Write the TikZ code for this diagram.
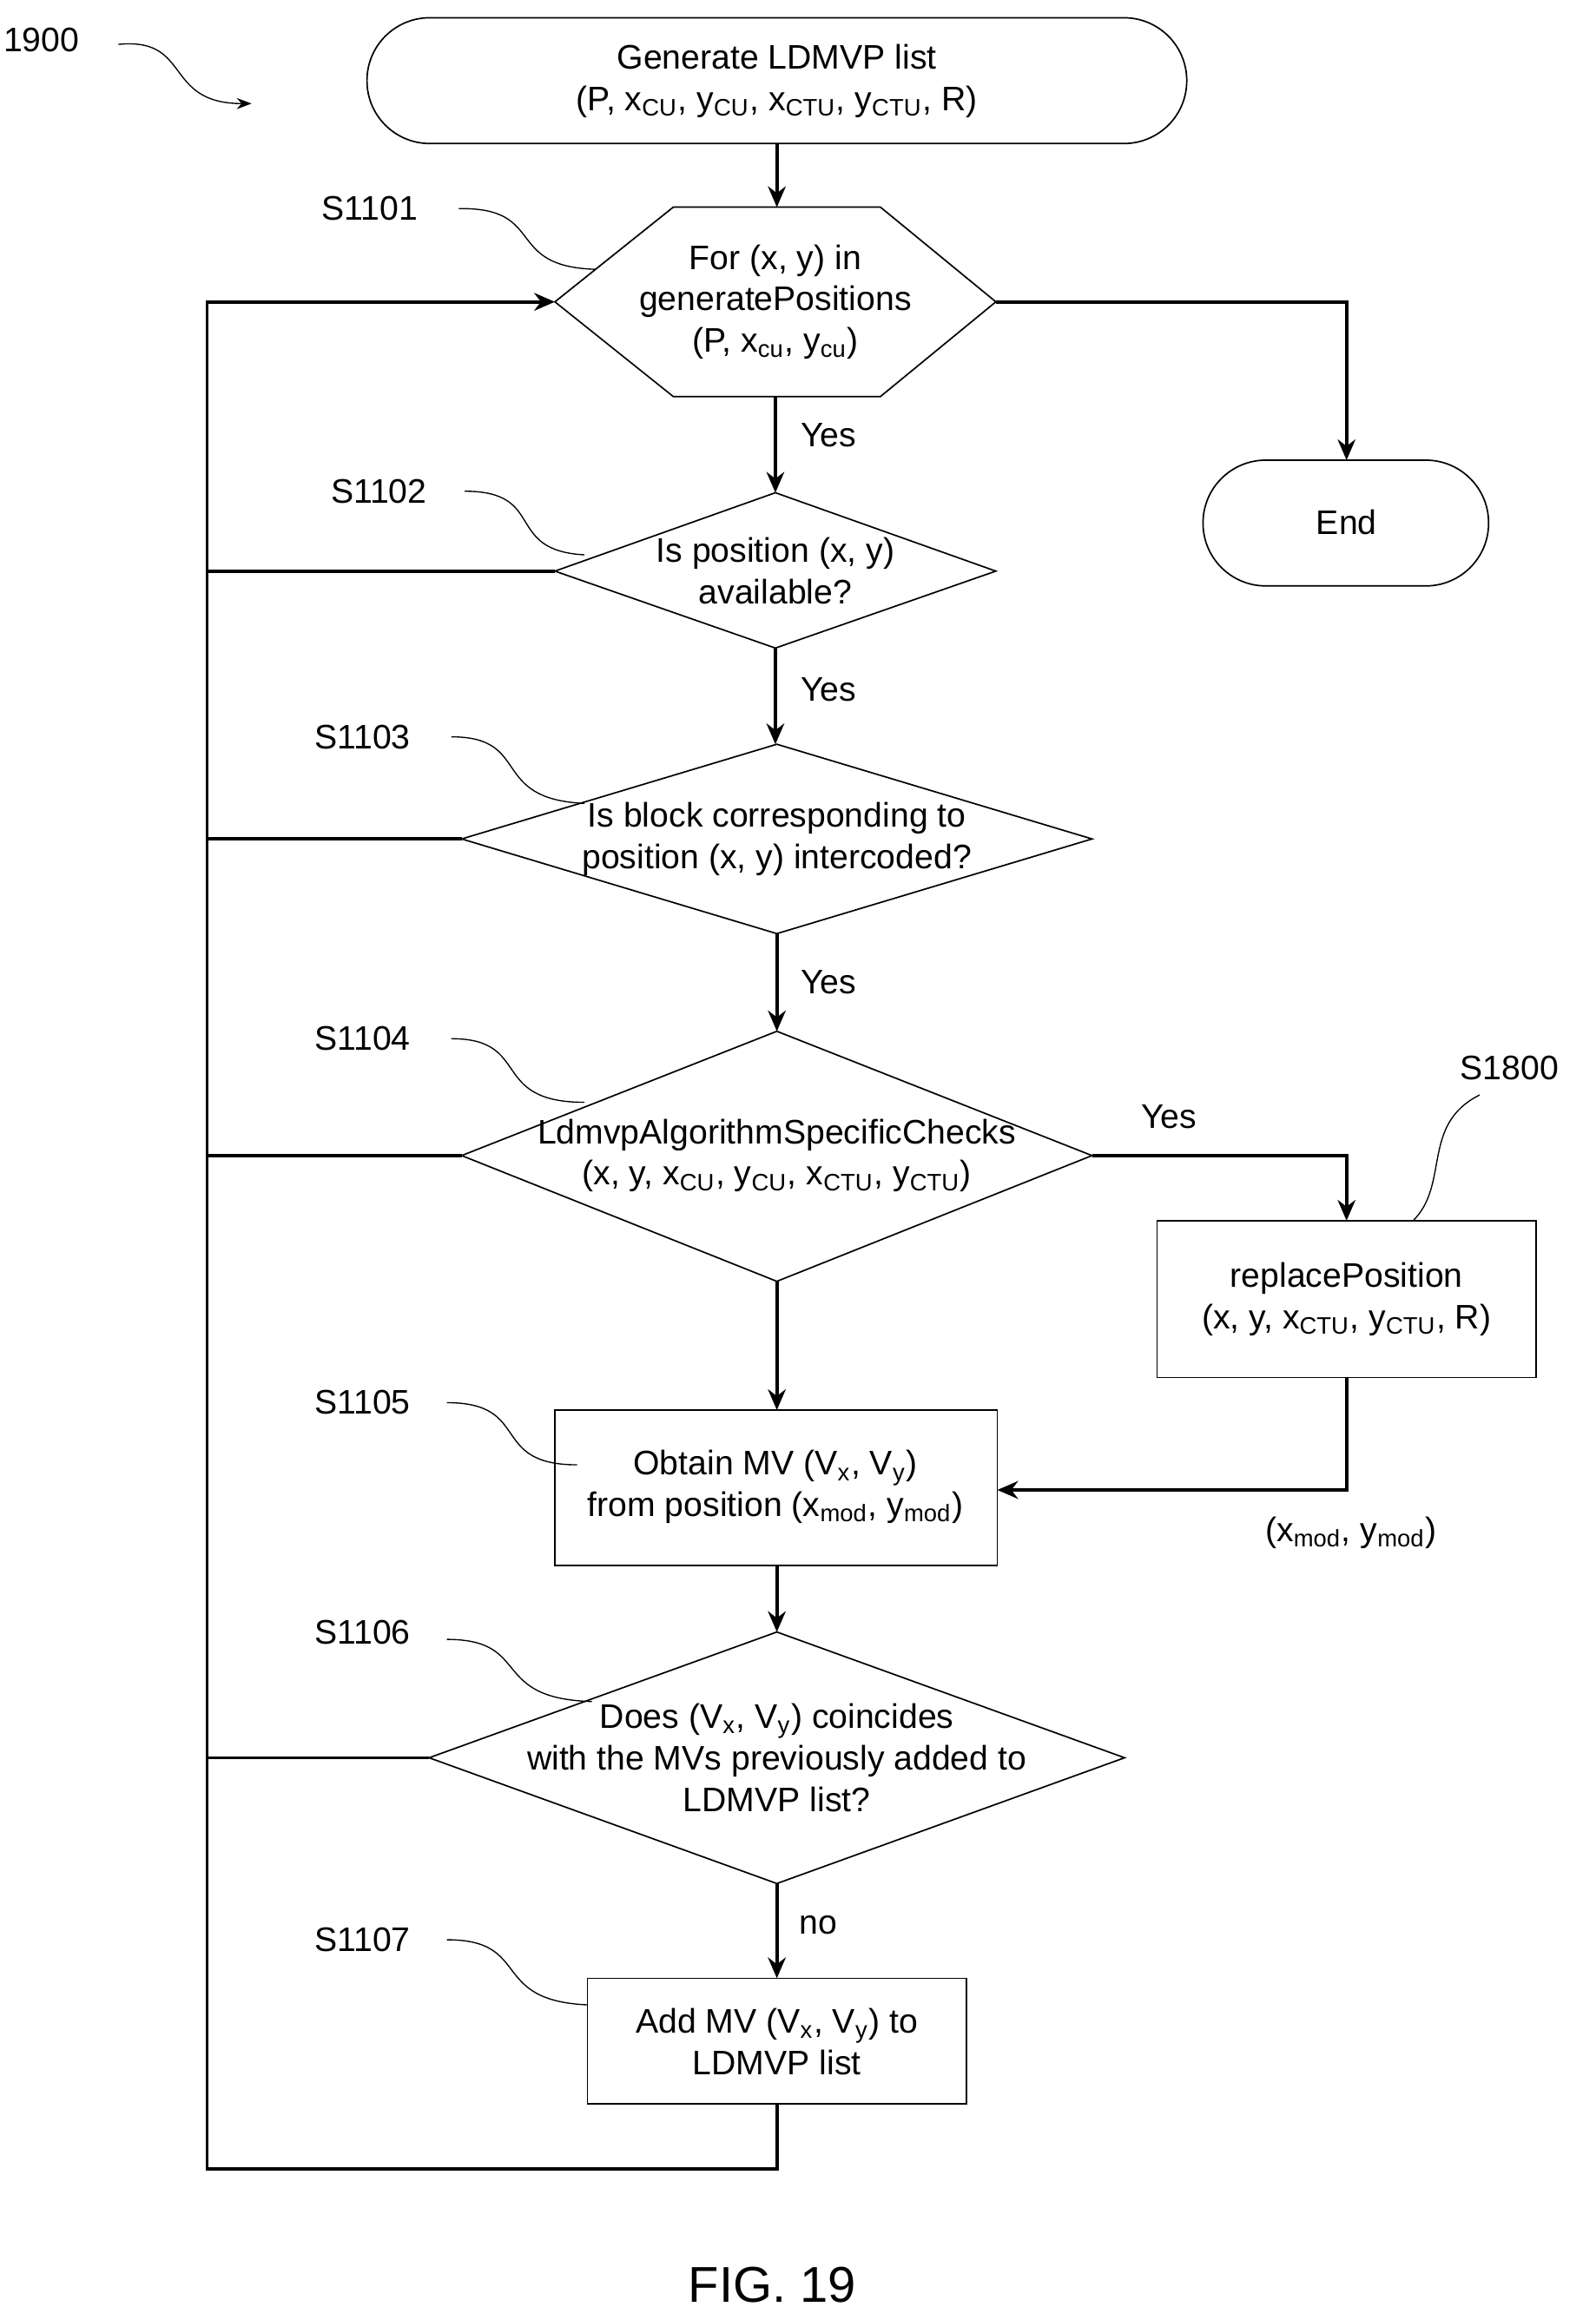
\documentclass[tikz,border=0pt]{standalone}
\usepackage{fontspec}
\setmainfont{Liberation Sans}
\usetikzlibrary{arrows.meta,shapes.geometric}
\newcommand{\ssb}[1]{\textsubscript{#1}}
\begin{document}
\begin{tikzpicture}[x=0.5pt,y=-0.5pt,font=\fontsize{11.5}{14}\selectfont,
  shp/.style={draw,line width=0.5pt},
  ln/.style={line width=1.1pt},
  arr/.style={ln,-{Stealth[length=7pt,width=6pt]}},
  lead/.style={line width=0.4pt}]
\useasboundingbox (0,0) rectangle (1078,1568);
% shapes
\draw[shp,rounded corners=21.2pt] (248,12) rectangle (802,97);
\node[align=center] (start) at (525,55) {Generate LDMVP list\\(P, x\ssb{CU}, y\ssb{CU}, x\ssb{CTU}, y\ssb{CTU}, R)};
\draw[shp] (375,204) -- (455,140) -- (595,140) -- (673,204) -- (595,268) -- (455,268) -- cycle;
\node[align=center] (hex) at (524,204) {For (x, y) in\\generatePositions\\(P, x\ssb{cu}, y\ssb{cu})};
\draw[shp] (375,386) -- (524,333) -- (673,386) -- (524,438) -- cycle;
\node[align=center] (d2) at (524,386) {Is position (x, y)\\available?};
\draw[shp] (312,567) -- (525,503) -- (738,567) -- (525,631) -- cycle;
\node[align=center] (d3) at (525,567) {Is block corresponding to\\position (x, y) intercoded?};
\draw[shp] (312,781) -- (525,697) -- (738,781) -- (525,866) -- cycle;
\node[align=center] (d4) at (525,781) {LdmvpAlgorithmSpecificChecks\\(x, y, x\ssb{CU}, y\ssb{CU}, x\ssb{CTU}, y\ssb{CTU})};
\draw[shp,rounded corners=21.2pt] (813,311) rectangle (1006,396);
\node (end) at (910,353) {End};
\draw[shp] (782,825) rectangle (1038,931);
\node[align=center] (rep) at (910,878) {replacePosition\\(x, y, x\ssb{CTU}, y\ssb{CTU}, R)};
\draw[shp] (375,953) rectangle (674,1058);
\node[align=center] (obt) at (524,1005) {Obtain MV (V\ssb{x}, V\ssb{y})\\from position (x\ssb{mod}, y\ssb{mod})};
\draw[shp] (290,1188) -- (525,1103) -- (760,1188) -- (525,1273) -- cycle;
\node[align=center] (d6) at (525,1188) {Does (V\ssb{x}, V\ssb{y}) coincides\\with the MVs previously added to\\LDMVP list?};
\draw[shp] (397,1337) rectangle (653,1422);
\node[align=center] (add) at (525,1380) {Add MV (V\ssb{x}, V\ssb{y}) to\\LDMVP list};
% connectors
\draw[arr] (525,97) -- (525,140);
\draw[arr] (524,268) -- (524,333);
\draw[arr] (524,438) -- (524,503);
\draw[arr] (525,631) -- (525,697);
\draw[arr] (525,866) -- (525,953);
\draw[arr] (525,1058) -- (525,1103);
\draw[arr] (525,1273) -- (525,1337);
\draw[arr] (525,1422) -- (525,1466) -- (140,1466) -- (140,204) -- (375,204);
\draw[ln] (375,386) -- (140,386);
\draw[ln] (312,567) -- (140,567);
\draw[ln] (312,781) -- (140,781);
\draw[ln] (290,1188) -- (140,1188);
\draw[arr] (673,204) -- (910,204) -- (910,311);
\draw[arr] (738,781) -- (910,781) -- (910,825);
\draw[arr] (910,931) -- (910,1007) -- (674,1007);
% labels
\node at (560,294) {Yes};
\node at (560,466) {Yes};
\node at (560,664) {Yes};
\node at (790,755) {Yes};
\node at (553,1301) {no};
\node at (913,1036) {(x\ssb{mod}, y\ssb{mod})};
\node (l1900) at (28,27) {1900};
\node (l1101) at (250,141) {S1101};
\node (l1102) at (256,332) {S1102};
\node (l1103) at (245,498) {S1103};
\node (l1104) at (245,702) {S1104};
\node (l1105) at (245,948) {S1105};
\node (l1106) at (245,1103) {S1106};
\node (l1107) at (245,1311) {S1107};
\node (l1800) at (1020,722) {S1800};
\node[font=\fontsize{17}{20}\selectfont] (fig) at (522,1544) {FIG. 19};
% leaders
\draw[lead,-{Stealth[length=5pt]}] (80,30) .. controls (130,25) and (110,70) .. (170,70);
\draw[lead] (310,141) .. controls (370,140) and (340,180) .. (402,182);
\draw[lead] (314,332) .. controls (370,332) and (340,372) .. (395,375);
\draw[lead] (305,498) .. controls (360,498) and (330,540) .. (395,543);
\draw[lead] (305,702) .. controls (360,702) and (330,745) .. (395,745);
\draw[lead] (302,948) .. controls (360,948) and (330,990) .. (390,990);
\draw[lead] (302,1108) .. controls (360,1108) and (330,1148) .. (400,1150);
\draw[lead] (302,1311) .. controls (360,1311) and (330,1352) .. (397,1355);
\draw[lead] (1000,740) .. controls (960,760) and (980,800) .. (955,825);
\end{tikzpicture}
\end{document}
